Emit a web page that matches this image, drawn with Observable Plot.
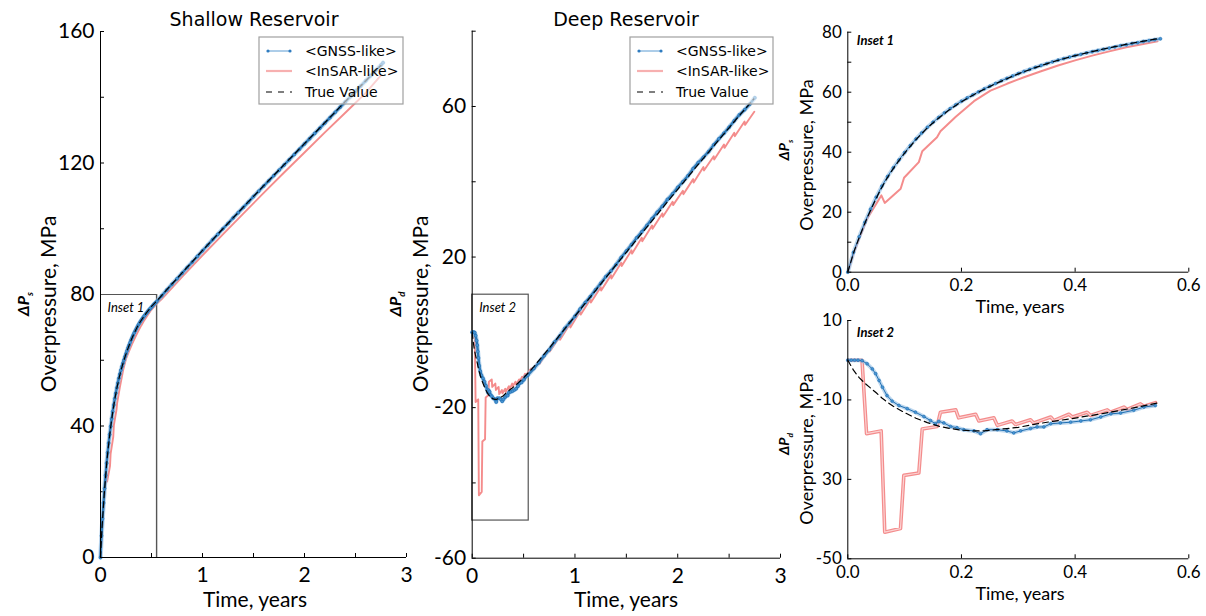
<!DOCTYPE html>
<html><head><meta charset="utf-8">
<script src="https://cdn.jsdelivr.net/npm/d3@7"></script>
<script src="https://cdn.jsdelivr.net/npm/@observablehq/plot@0.6"></script>
<style>
html,body{margin:0;padding:0;background:#fff;}
#wrap{position:relative;width:1206px;height:616px;overflow:hidden;background:#fff;}
#wrap svg{position:absolute;overflow:visible;background:transparent;}
</style></head><body><div id="wrap"></div>
<script>
// ---------------- tick definitions ----------------
const mainXTicks = [0, 0.5, 1, 1.5, 2, 2.5, 3];
const mainXLabels = [0, 1, 2, 3];
const shallowYTicks = [0, 20, 40, 60, 80, 100, 120, 140, 160];
const shallowYLabels = [0, 40, 80, 120, 160];
const deepYTicks = [-60, -40, -20, 0, 20, 40, 60, 80];
const deepYLabels = [-60, -20, 20, 60];
const insetXTicks = [0, 0.2, 0.4, 0.6];
const inset1YTicks = [0, 10, 20, 30, 40, 50, 60, 70, 80];
const inset1YLabels = [0, 20, 40, 60, 80];
const inset2YTicks = [10, -10, -30, -50];
const inset2YTickText = ["10", "-10", "30", "-50"];

// inset frames drawn on the main panels
const insetTimeMax = 0.55;
const inset1Range = [0, 80];
const inset2Range = [-50, 10];

// ---------------- Shallow reservoir ----------------
const shallowGnssT = [0,0.01,0.02,0.03,0.04,0.05,0.06,0.07,0.08,0.09,0.10,0.11,0.12,0.13,0.14,0.15,0.16,0.17,0.18,0.19,0.20,0.21,0.22,0.23,0.24,0.25,0.26,0.27,0.28,0.29,0.30,0.31,0.32,0.33,0.34,0.35,0.36,0.37,0.38,0.39,0.40,0.41,0.42,0.43,0.44,0.45,0.46,0.47,0.48,0.49,0.50,0.51,0.52,0.53,0.54,0.55,
  0.60,0.65,0.70,0.75,0.80,0.85,0.90,0.95,1.00,1.05,1.10,1.15,1.20,1.25,1.30,1.35,1.40,1.45,1.50,1.55,1.60,1.65,1.70,1.75,1.80,1.85,1.90,1.95,2.00,2.05,2.10,2.15,2.20,2.25,2.30,2.35,2.40,2.45,2.50,2.55,2.60,2.65,2.70,2.75,2.77];
const shallowGnssV = [0,6.6,11.8,16.6,21.0,25.0,28.7,31.9,34.8,37.4,39.9,42.2,44.4,46.4,48.3,50.0,51.6,53.1,54.5,55.8,57.0,58.1,59.1,60.1,61.1,62.0,62.9,63.8,64.6,65.4,66.2,66.9,67.6,68.3,68.9,69.5,70.1,70.7,71.2,71.7,72.2,72.6,73.1,73.5,73.9,74.3,74.7,75.1,75.5,75.8,76.2,76.5,76.9,77.2,77.5,77.8,
  79.6,81.4,83.1,84.8,86.5,88.2,89.9,91.6,93.3,95.0,96.7,98.3,100.0,101.6,103.3,104.9,106.5,108.1,109.8,111.4,113.0,114.6,116.2,117.8,119.4,121.0,122.6,124.2,125.8,127.4,129.0,130.6,132.2,133.8,135.4,137.0,138.6,140.2,141.8,143.4,145.0,146.6,148.2,149.8,150.5];
const shallowInsarT = [0,0.01,0.02,0.034,0.045,0.059,0.065,0.093,0.099,0.125,0.131,0.157,0.163,0.19,0.222,0.251,0.28,0.31,0.34,0.37,0.40,0.43,0.46,0.49,0.52,0.545,
  0.6,0.8,1.0,1.2,1.4,1.6,1.8,2.0,2.2,2.4,2.6,2.745];
const shallowInsarV = [0,6.2,11.2,17.8,21.2,25.6,23.1,27.8,31.5,36.7,40.3,45.0,47.0,51.8,57.0,60.5,62.8,65.0,67.0,68.9,70.6,72.2,73.6,75.0,76.1,77.0,
  78.6,85.4,91.9,98.3,104.6,110.9,117.1,123.2,129.3,135.3,141.3,146.5];
const shallowTrueT = [0,0.01,0.02,0.03,0.04,0.05,0.06,0.07,0.08,0.09,0.10,0.12,0.14,0.16,0.18,0.20,0.22,0.24,0.26,0.28,0.30,0.33,0.36,0.39,0.42,0.45,0.48,0.51,0.55,0.6,0.7,0.8,0.9,1.0,1.2,1.4,1.6,1.8,2.0,2.2,2.4,2.6,2.75];
const shallowTrueV = [0,6.4,11.5,16.3,20.6,24.6,28.3,31.6,34.5,37.2,39.7,44.2,48.1,51.4,54.3,56.8,59.0,61.0,62.8,64.5,66.1,68.2,70.1,71.7,73.1,74.4,75.6,76.7,78.0,79.7,83.2,86.6,90.0,93.4,100.0,106.6,113.1,119.5,125.9,132.3,138.7,145.0,149.7];

// ---------------- Deep reservoir ----------------
const deepGnssT = [0,0.006,0.012,0.018,0.025,0.034,0.043,0.049,0.055,0.061,0.069,0.078,0.09,0.1045,0.119,0.134,0.1455,0.154,0.16,0.169,0.181,0.192,0.204,0.222,0.2335,0.245,0.263,0.28,0.292,0.304,0.3215,0.333,0.345,0.357,0.374,0.392,0.41,0.427,0.445,0.463,0.48,0.503,0.521,0.541,
  0.6,0.65,0.7,0.75,0.8,0.85,0.9,0.95,1.0,1.05,1.1,1.15,1.2,1.25,1.3,1.35,1.4,1.45,1.5,1.55,1.6,1.65,1.7,1.75,1.8,1.85,1.9,1.95,2.0,2.05,2.1,2.15,2.2,2.25,2.3,2.35,2.4,2.45,2.5,2.55,2.6,2.65,2.7,2.75];
const deepGnssV = [0,0,0,0,-0.1,-0.9,-2.2,-3.4,-5.1,-6.8,-8.9,-10.3,-11.4,-12.2,-13.1,-14.2,-15.2,-16.0,-15.4,-15.8,-16.7,-17.0,-17.5,-17.8,-18.5,-17.5,-17.5,-17.8,-18.3,-17.8,-17.2,-16.8,-16.8,-16.0,-15.8,-15.6,-15.3,-15.0,-14.3,-13.5,-13.3,-12.6,-11.8,-11.4,
  -9.6,-8.0,-6.2,-4.6,-2.6,-1.0,1.0,2.6,4.3,6.2,7.9,9.5,11.3,13.0,14.8,16.3,18.0,19.9,21.6,23.3,25.1,26.7,28.4,30.2,31.9,33.5,35.3,36.8,38.5,40.0,41.6,43.5,45.1,46.5,48.0,49.8,51.4,52.9,54.5,56.2,57.8,59.1,60.6,62.3];
const deepInsarT = [0,0.025,0.033,0.0587,0.065,0.0927,0.0986,0.125,0.131,0.157,0.163,0.19,0.195,0.225,0.2305,0.257,0.263,0.289,0.295,0.3215,0.327,0.357,0.3625,0.389,0.395,0.421,0.427,0.4565,0.462,0.4857,0.4915,0.515,0.521,0.5415,
  0.575,0.58,0.65,0.655,0.75,0.755,0.85,0.855,0.95,0.955,1.05,1.055,1.15,1.155,1.25,1.255,1.35,1.355,1.45,1.455,1.55,1.555,1.65,1.655,1.75,1.755,1.85,1.855,1.95,1.955,2.05,2.055,2.15,2.155,2.25,2.255,2.35,2.355,2.45,2.455,2.55,2.555,2.65,2.655,2.745];
const deepInsarV = [0,0,-18.5,-17.8,-43.3,-42.4,-29.0,-28.4,-17.3,-16.7,-13.1,-12.5,-14.5,-13.6,-15.3,-14.5,-16.4,-15.3,-16.2,-15.0,-15.8,-14.3,-15.2,-13.6,-14.3,-13.1,-13.9,-12.5,-13.1,-11.8,-12.4,-11.0,-11.6,-10.7,
  -9.6,-10.3,-7.6,-8.4,-4.3,-5.1,-1.2,-2.0,2.2,1.3,5.6,4.7,8.8,7.9,12.0,11.1,15.2,14.3,18.5,17.6,21.8,20.9,25.1,24.2,28.4,27.5,31.6,30.7,34.7,33.8,37.6,36.7,40.7,39.8,43.9,43.0,46.8,45.9,49.9,49.0,53.0,52.1,56.0,55.1,58.6];
const deepTrueT = [0,0.01,0.02,0.03,0.04,0.05,0.06,0.07,0.08,0.09,0.10,0.12,0.14,0.16,0.18,0.20,0.22,0.24,0.26,0.28,0.30,0.33,0.36,0.39,0.42,0.45,0.48,0.51,0.55,0.6,0.7,0.8,0.9,1.0,1.2,1.4,1.6,1.8,2.0,2.2,2.4,2.6,2.74];
const deepTrueV = [0,-2.5,-4.4,-5.8,-7.0,-8.2,-9.5,-10.6,-11.6,-12.4,-13.2,-14.6,-15.7,-16.6,-17.2,-17.6,-17.8,-17.8,-17.5,-17.2,-16.9,-16.1,-15.4,-14.8,-14.1,-13.4,-12.6,-11.8,-10.6,-9.1,-5.8,-2.5,0.9,4.3,11.1,17.9,24.6,31.3,38.0,44.6,51.1,57.6,62.0];

// ---------------- helpers ----------------
const zip = (T, V) => T.map((t, i) => ({t, v: V[i]}));
const shallowGnss = zip(shallowGnssT, shallowGnssV);
const shallowInsar = zip(shallowInsarT, shallowInsarV);
const shallowTrue = zip(shallowTrueT, shallowTrueV);
const deepGnss = zip(deepGnssT, deepGnssV);
const deepInsar = zip(deepInsarT, deepInsarV);
const deepTrue = zip(deepTrueT, deepTrueV);

const BLUE = "#1f6fb2", BLUE_DOT = "#4a95d3", BLUE_HALO = "#8dbbe3";
const RED = "#f37f7f", RED_LIGHT = "#fbd3d3";
const FONT = "Lato, 'Open Sans', sans-serif";

function seriesMarks(red, gnss, truth, opts = {}) {
  const f = opts.tmax ? {filter: d => d.t <= opts.tmax} : {};
  const marks = [];
  if (opts.doubleRed) {
    marks.push(Plot.line(red, {x: "t", y: "v", ...f, stroke: RED, strokeWidth: 3.6, strokeOpacity: 0.9}));
    marks.push(Plot.line(red, {x: "t", y: "v", ...f, stroke: RED_LIGHT, strokeWidth: 1.2}));
  } else {
    marks.push(Plot.line(red, {x: "t", y: "v", ...f, stroke: RED, strokeWidth: opts.redWidth || 1.8, strokeOpacity: 0.9}));
  }
  marks.push(Plot.line(gnss, {x: "t", y: "v", ...f, stroke: BLUE_HALO, strokeWidth: opts.haloWidth || 4, strokeOpacity: 0.6}));
  marks.push(Plot.line(gnss, {x: "t", y: "v", ...f, stroke: opts.lineColor || BLUE, strokeWidth: opts.lineWidth || 1}));
  marks.push(Plot.dot(gnss, {x: "t", y: "v", ...f, r: opts.r || 1.4, fill: BLUE_DOT, stroke: BLUE, strokeWidth: 0.6}));
  marks.push(Plot.line(truth, {x: "t", y: "v", ...f, stroke: "#000", strokeWidth: 1.2, strokeDasharray: "6,4"}));
  return marks;
}

function axes(xTicks, xFmt, yTicks, yFmt, fs) {
  return [
    Plot.axisX(xTicks, {tickSize: -4, tickPadding: fs > 18 ? 14 : 11, tickFormat: xFmt, label: null, fontSize: fs}),
    Plot.axisY(yTicks, {tickSize: -4, tickPadding: 10, tickFormat: yFmt, label: null, fontSize: fs})
  ];
}
const onlyLabels = labels => d => labels.includes(d) ? String(d) : "";

const wrap = document.getElementById("wrap");
function place(svg, left, top) {
  svg.style.left = left + "px";
  svg.style.top = top + "px";
  wrap.appendChild(svg);
  return svg;
}
function addText(svg, x, y, txt, o = {}) {
  const t = d3.select(svg).append("text")
    .attr("x", x).attr("y", y)
    .attr("font-family", o.family || FONT)
    .attr("font-size", o.size || 21)
    .attr("text-anchor", o.anchor || "middle")
    .attr("fill", "#000");
  if (o.weight) t.attr("font-weight", o.weight);
  if (o.style) t.attr("font-style", o.style);
  if (o.rotate) t.attr("transform", `rotate(-90,${x},${y})`);
  t.text(txt);
  return t;
}
function addDeltaLabel(svg, x, y, sub, size) {
  const t = d3.select(svg).append("text")
    .attr("x", x).attr("y", y)
    .attr("transform", `rotate(-90,${x},${y})`)
    .attr("text-anchor", "middle")
    .attr("font-family", FONT).attr("font-weight", "bold").attr("font-style", "italic")
    .attr("font-size", size).attr("fill", "#000");
  t.append("tspan").text("ΔP");
  t.append("tspan").attr("font-size", size * 0.6).attr("dy", size * 0.25).text(sub);
}
function addLegend(svg, x0, y0, w, h) {
  const g = d3.select(svg).append("g");
  g.append("rect").attr("x", x0).attr("y", y0).attr("width", w).attr("height", h)
    .attr("fill", "#fff").attr("fill-opacity", 0.6).attr("stroke", "#a0a0a0").attr("stroke-width", 1.2);
  const lx1 = x0 + 9, lx2 = x0 + 31, tx = x0 + 46;
  const rows = [y0 + 14, y0 + 34, y0 + 55];
  g.append("line").attr("x1", lx1).attr("x2", lx2).attr("y1", rows[0]).attr("y2", rows[0])
    .attr("stroke", "#5b9bd2").attr("stroke-width", 1);
  [lx1, lx2].forEach(cx => g.append("circle").attr("cx", cx).attr("cy", rows[0]).attr("r", 1.6).attr("fill", "#2f7cc0"));
  g.append("line").attr("x1", lx1 - 2).attr("x2", lx2 + 2).attr("y1", rows[1]).attr("y2", rows[1])
    .attr("stroke", "#f7b0b0").attr("stroke-width", 2.2);
  g.append("line").attr("x1", lx1 - 2).attr("x2", lx2 + 2).attr("y1", rows[2]).attr("y2", rows[2])
    .attr("stroke", "#000").attr("stroke-width", 1.2).attr("stroke-dasharray", "6,6");
  ["<GNSS-like>", "<InSAR-like>", "True Value"].forEach((s, i) =>
    g.append("text").attr("x", tx).attr("y", rows[i] + 5).attr("text-anchor", "start")
      .attr("font-family", "DejaVu Sans, sans-serif")
      .attr("font-size", 14).attr("fill", "#000").text(s));
}

const baseStyle = {fontFamily: FONT, background: "transparent", overflow: "visible", color: "#000"};

// ---------------- Panel 1: Shallow ----------------
const p1 = Plot.plot({
  width: 410, height: 616, marginLeft: 100, marginRight: 4, marginTop: 31, marginBottom: 59,
  x: {domain: [0, 3]}, y: {domain: [0, 160]},
  style: {...baseStyle, fontSize: "21px"},
  marks: [
    ...axes(mainXTicks, onlyLabels(mainXLabels), shallowYTicks, onlyLabels(shallowYLabels), 21),
    Plot.ruleY([inset1Range[1]], {x1: 0, x2: insetTimeMax, stroke: "#555", strokeWidth: 1.2}),
    Plot.ruleX([insetTimeMax], {y1: inset1Range[0], y2: inset1Range[1], stroke: "#555", strokeWidth: 1.4}),
    Plot.text(["Inset 1"], {x: 0, y: inset1Range[1], dx: 7, dy: 8, lineAnchor: "top", textAnchor: "start", fontStyle: "italic", fontSize: 13}),
    ...seriesMarks(shallowInsar, shallowGnss, shallowTrue, {haloWidth: 4.5, lineWidth: 2.4, lineColor: "#2d7ab8", r: 1.5, redWidth: 1.9}),
    Plot.ruleX([0], {stroke: "#000"}), Plot.ruleY([0], {stroke: "#000"})
  ]
});
place(p1, 0, 0);
addText(p1, 254, 26, "Shallow Reservoir", {family: "DejaVu Sans, sans-serif", size: 19});
addText(p1, 255, 607, "Time, years");
addText(p1, 56, 304, "Overpressure, MPa", {rotate: true});
addDeltaLabel(p1, 29, 304, "s", 16);
addLegend(p1, 259, 37, 144, 67);

// ---------------- Panel 2: Deep ----------------
const L2 = 380;
const p2 = Plot.plot({
  width: 410, height: 616, marginLeft: 91.7, marginRight: 10, marginTop: 30.7, marginBottom: 58.3,
  x: {domain: [0, 3]}, y: {domain: [-60, 80]},
  style: {...baseStyle, fontSize: "21px"},
  marks: [
    ...axes(mainXTicks, onlyLabels(mainXLabels), deepYTicks, onlyLabels(deepYLabels), 21),
    Plot.rect([{x1: 0, x2: insetTimeMax, y1: inset2Range[0], y2: inset2Range[1]}], {x1: "x1", x2: "x2", y1: "y1", y2: "y2", fill: "none", stroke: "#555", strokeWidth: 1.2}),
    Plot.text(["Inset 2"], {x: 0, y: inset2Range[1], dx: 7, dy: 8, lineAnchor: "top", textAnchor: "start", fontStyle: "italic", fontSize: 13}),
    ...seriesMarks(deepInsar, deepGnss, deepTrue, {haloWidth: 4.5, lineWidth: 2.4, lineColor: "#2d7ab8", r: 1.5, redWidth: 1.9}),
    Plot.ruleX([0], {stroke: "#000"}), Plot.ruleY([-60], {stroke: "#000"})
  ]
});
place(p2, L2, 0);
addText(p2, 626 - L2, 26, "Deep Reservoir", {family: "DejaVu Sans, sans-serif", size: 19});
addText(p2, 626 - L2, 607, "Time, years");
addText(p2, 428 - L2, 304, "Overpressure, MPa", {rotate: true});
addDeltaLabel(p2, 401 - L2, 304, "d", 16);
addLegend(p2, 630 - L2, 37, 143, 67);

// ---------------- Panel 3: Inset 1 ----------------
const L3 = 760;
const p3 = Plot.plot({
  width: 446, height: 330, marginLeft: 87.3, marginRight: 17.7, marginTop: 31.7, marginBottom: 58.3,
  x: {domain: [0, 0.6]}, y: {domain: [0, 80]},
  style: {...baseStyle, fontSize: "17px"},
  marks: [
    ...axes(insetXTicks, d3.format(".1f"), inset1YTicks, onlyLabels(inset1YLabels), 17),
    Plot.text(["Inset 1"], {frameAnchor: "top-left", dx: 9, dy: 4, lineAnchor: "top", textAnchor: "start", fontStyle: "italic", fontWeight: "bold", fontSize: 13}),
    ...seriesMarks(shallowInsar, shallowGnss, shallowTrue, {tmax: 0.551, redWidth: 2, r: 1.4}),
    Plot.ruleX([0], {stroke: "#000"}), Plot.ruleY([0], {stroke: "#000"})
  ]
});
place(p3, L3, 0);
addText(p3, 1020 - L3, 313, "Time, years", {size: 18});
addText(p3, 813 - L3, 155, "Overpressure, MPa", {rotate: true, size: 18});
addDeltaLabel(p3, 789 - L3, 150, "s", 14);

// ---------------- Panel 4: Inset 2 ----------------
const L4 = 760, T4 = 300;
const p4 = Plot.plot({
  width: 446, height: 316, marginLeft: 87.3, marginRight: 17.7, marginTop: 20, marginBottom: 57.7,
  x: {domain: [0, 0.6]}, y: {domain: [-50, 10]},
  style: {...baseStyle, fontSize: "17px"},
  marks: [
    ...axes(insetXTicks, d3.format(".1f"), inset2YTicks, d => inset2YTickText[inset2YTicks.indexOf(d)], 17),
    Plot.text(["Inset 2"], {frameAnchor: "top-left", dx: 9, dy: 7, lineAnchor: "top", textAnchor: "start", fontStyle: "italic", fontWeight: "bold", fontSize: 13}),
    ...seriesMarks(deepInsar, deepGnss, deepTrue, {tmax: 0.551, doubleRed: true, r: 1.4}),
    Plot.ruleX([0], {stroke: "#000"}), Plot.ruleY([-50], {stroke: "#000"})
  ]
});
place(p4, L4, T4);
addText(p4, 1020 - L4, 600 - T4, "Time, years", {size: 18});
addText(p4, 813 - L4, 449 - T4, "Overpressure, MPa", {rotate: true, size: 18});
addDeltaLabel(p4, 789 - L4, 444 - T4, "d", 14);
</script>
</body></html>
